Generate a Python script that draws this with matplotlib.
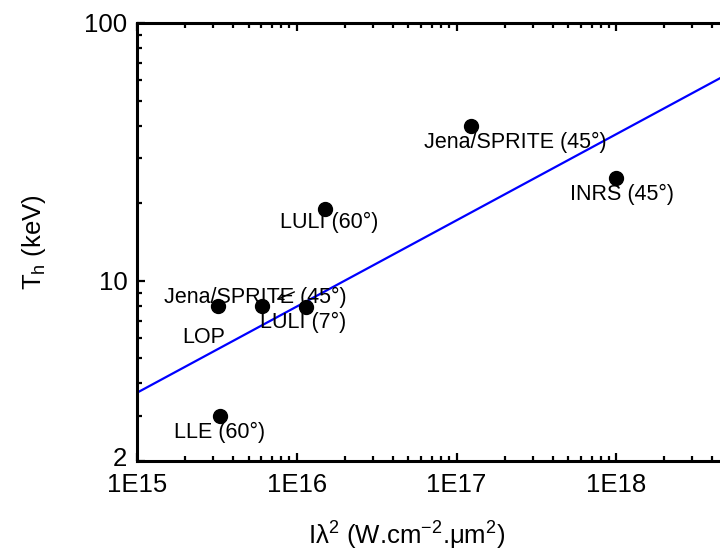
import numpy as np
import matplotlib
matplotlib.use('Agg')
import matplotlib.pyplot as plt
import matplotlib.transforms as mtransforms
from matplotlib.ticker import FixedLocator, FixedFormatter, LogLocator, NullFormatter

plt.rcParams['font.family'] = ['Liberation Sans', 'DejaVu Sans']
plt.rcParams['mathtext.fontset'] = 'custom'
plt.rcParams['mathtext.rm'] = 'Liberation Sans'
plt.rcParams['mathtext.it'] = 'Liberation Sans:italic'

# data
intensity = [3.2e15, 6.1e15, 1.15e16, 1.5e16, 1.23e17, 1.0e18, 3.3e15]
t_hot = [8.0, 8.0, 7.9, 19.0, 40.0, 25.0, 3.0]
# fit line end points
fit_x = [1e15, 1e19]
fit_y = [3.68, 80.0]

# labels: (text, index of point, offset in points)
labels = [
    ('Jena/SPRITE (45°)', 4, (32, -12)),
    ('INRS (45°)', 5, (4, -12)),
    ('LULI (60°)', 3, (3, -10)),
    ('LLE (60°)', 6, (0, -12)),
    ('Jena/SPRITE (45°)', 1, (-5, 6)),
    ('LULI (7°)', 2, (-2.5, -11)),
    ('LOP', 0, (-10, -23)),
]

fig = plt.figure(figsize=(7.2, 5.58), dpi=100)
ax = fig.add_axes([137/720, 97/558, 639/720, 438/558])

ax.plot(fit_x, fit_y, color='#0000ff', lw=1.6, zorder=2)
ax.plot(intensity, t_hot, 'o', color='black', ms=10, zorder=3)

for txt, i, off in labels:
    ax.annotate(txt, (intensity[i], t_hot[i]), xytext=off, textcoords='offset points',
                ha='center', va='center', fontsize=15.5, zorder=4)

# small arrow near the lower Jena/SPRITE label
ax.annotate('', xy=(intensity[1], t_hot[1]), xytext=(23, 10), textcoords='offset points',
            arrowprops=dict(arrowstyle='->', lw=1, color='black', shrinkA=0, shrinkB=11))

ax.set_xscale('log')
ax.set_yscale('log')
ax.set_xlim(1e15, 1e19)
ax.set_ylim(2, 100)

ax.xaxis.set_major_locator(FixedLocator([1e15, 1e16, 1e17, 1e18]))
ax.xaxis.set_major_formatter(FixedFormatter(['1E15', '1E16', '1E17', '1E18']))
ax.xaxis.set_minor_locator(LogLocator(base=10, subs=np.arange(2, 10), numticks=20))
ax.xaxis.set_minor_formatter(NullFormatter())
ax.yaxis.set_major_locator(FixedLocator([2, 10, 100]))
ax.yaxis.set_major_formatter(FixedFormatter(['2', '10', '100']))
ax.yaxis.set_minor_locator(FixedLocator([3, 4, 5, 6, 7, 8, 9, 20, 30, 40, 50, 60, 70, 80, 90]))
ax.yaxis.set_minor_formatter(NullFormatter())

ax.tick_params(which='both', direction='in', top=True, right=True, width=1.6, labelsize=18.5)
ax.tick_params(which='major', length=6, pad=7)
ax.tick_params(axis='x', which='major', pad=9)
ax.tick_params(which='minor', length=3.5)
for s in ax.spines.values():
    s.set_linewidth(2.2)

# lift the bottom "2" label a little, as in the original
lbl = ax.yaxis.get_major_ticks()[0].label1
lbl.set_transform(lbl.get_transform() + mtransforms.ScaledTranslation(0, 3/72, fig.dpi_scale_trans))

ax.set_xlabel('Iλ$^2$ (W.cm$^{-2}$.μm$^2$)', fontsize=18.5)
ax.set_ylabel('T$_\\mathrm{h}$ (keV)', fontsize=18.5)
ax.xaxis.set_label_coords((407 - 137) / 639, (461 - 520) / 438)
ax.yaxis.set_label_coords((48 - 137) / 639, 0.5)

fig.savefig('out.png', dpi=100)
